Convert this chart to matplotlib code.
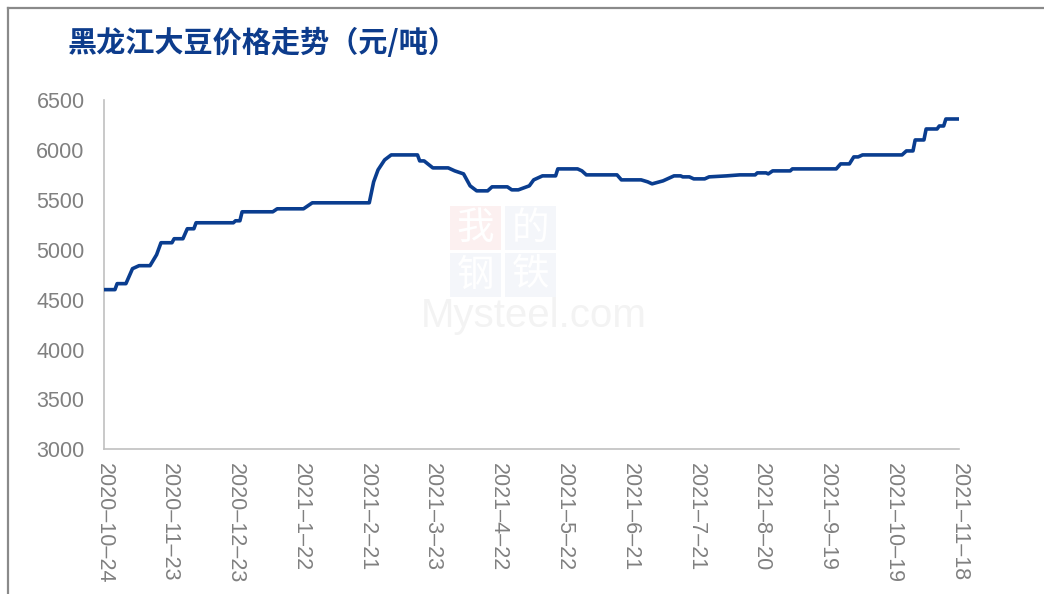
import matplotlib
matplotlib.use("Agg")
import matplotlib.pyplot as plt
from matplotlib.lines import Line2D
from matplotlib.patches import Rectangle
import pandas as pd

plt.rcParams["font.family"] = ["Liberation Sans", "Noto Sans CJK SC", "DejaVu Sans"]

# price turning points (yuan/ton)
dates = [
    "2020-10-24", "2020-10-29", "2020-10-30", "2020-11-03", "2020-11-06", "2020-11-09",
    "2020-11-14", "2020-11-17", "2020-11-19", "2020-11-24", "2020-11-25", "2020-11-29",
    "2020-12-01", "2020-12-04", "2020-12-05", "2020-12-22", "2020-12-23", "2020-12-25",
    "2020-12-26", "2021-01-09", "2021-01-11", "2021-01-23", "2021-01-27", "2021-02-22",
    "2021-02-24", "2021-02-26", "2021-03-01", "2021-03-04", "2021-03-16", "2021-03-17",
    "2021-03-19", "2021-03-23", "2021-03-30", "2021-04-02", "2021-04-06", "2021-04-09",
    "2021-04-12", "2021-04-17", "2021-04-19", "2021-04-26", "2021-04-28", "2021-05-01",
    "2021-05-06", "2021-05-08", "2021-05-10", "2021-05-12", "2021-05-18", "2021-05-19",
    "2021-05-28", "2021-05-30", "2021-06-01", "2021-06-15", "2021-06-17", "2021-06-26",
    "2021-06-29", "2021-07-01", "2021-07-06", "2021-07-09", "2021-07-11", "2021-07-14",
    "2021-07-15", "2021-07-18", "2021-07-20", "2021-07-25", "2021-07-27", "2021-08-04",
    "2021-08-10", "2021-08-17", "2021-08-18", "2021-08-22", "2021-08-23", "2021-08-25",
    "2021-09-02", "2021-09-03", "2021-09-23", "2021-09-25", "2021-09-29", "2021-10-01",
    "2021-10-03", "2021-10-05", "2021-10-23", "2021-10-25", "2021-10-28", "2021-10-29",
    "2021-11-02", "2021-11-03", "2021-11-08", "2021-11-09", "2021-11-11", "2021-11-12",
    "2021-11-18",
]
prices = [
    4600, 4600, 4660, 4660, 4810, 4840,
    4840, 4950, 5070, 5070, 5110, 5110,
    5210, 5210, 5270, 5270, 5290, 5290,
    5380, 5380, 5410, 5410, 5470, 5470,
    5680, 5800, 5900, 5950, 5950, 5890,
    5890, 5820, 5820, 5790, 5760, 5640,
    5590, 5590, 5630, 5630, 5600, 5600,
    5640, 5700, 5720, 5740, 5740, 5810,
    5810, 5790, 5750, 5750, 5700, 5700,
    5680, 5660, 5690, 5720, 5740, 5740,
    5730, 5730, 5710, 5710, 5730, 5740,
    5750, 5750, 5770, 5770, 5760, 5790,
    5790, 5810, 5810, 5860, 5860, 5930,
    5930, 5950, 5950, 5990, 5990, 6100,
    6100, 6210, 6210, 6240, 6240, 6310,
    6310,
]

tick_dates = [
    "2020-10-24", "2020-11-23", "2020-12-23", "2021-01-22", "2021-02-21",
    "2021-03-23", "2021-04-22", "2021-05-22", "2021-06-21", "2021-07-21",
    "2021-08-20", "2021-09-19", "2021-10-19", "2021-11-18",
]
y_ticks = [3000, 3500, 4000, 4500, 5000, 5500, 6000, 6500]

line_color = "#0a3d8f"
grey = "#808080"

x = pd.to_datetime(dates)
ticks = pd.to_datetime(tick_dates)

fig = plt.figure(figsize=(10.44, 5.94), dpi=100)
ax = fig.add_axes([0.0996, 0.2436, 0.8190, 0.5880])

# faint watermark
wm = [(0.4310, 0.5791, "#fcf0f0", "我"), (0.4837, 0.5791, "#f4f6fa", "的"),
      (0.4310, 0.5000, "#f4f6fa", "钢"), (0.4837, 0.5000, "#f4f6fa", "铁")]
for bx, by, bc, ch in wm:
    fig.patches.append(Rectangle((bx, by), 0.0490, 0.0740, transform=fig.transFigure,
                                 facecolor=bc, edgecolor="none", zorder=0))
    fig.text(bx + 0.0245, by + 0.037, ch, color="white", fontsize=27,
             family=["Noto Sans CJK SC"], ha="center", va="center", zorder=0.5)
fig.text(0.4030, 0.4500, "Mysteel.com", color="#f3f3f3", fontsize=29,
         ha="left", va="baseline", zorder=0.5)
ax.patch.set_alpha(0)

ax.plot(x, prices, color=line_color, linewidth=2.6, solid_capstyle="round",
        solid_joinstyle="round", zorder=3)

ax.set_xlim(ticks[0], ticks[-1])
ax.set_ylim(3000, 6500)
ax.set_yticks(y_ticks)
ax.set_xticks(ticks)
ax.set_xticklabels([f"{d.year}\u2013{d.month}\u2013{d.day}" for d in ticks],
                   rotation=270, ha="center", va="top")

for s in ["top", "right"]:
    ax.spines[s].set_visible(False)
for s in ["left", "bottom"]:
    ax.spines[s].set_color("#c0c0c0")
    ax.spines[s].set_linewidth(1.2)
ax.tick_params(axis="both", length=0, colors=grey, labelsize=15.5)
ax.tick_params(axis="x", pad=10)
ax.tick_params(axis="y", pad=14)

fig.text(0.065, 0.927, "黑龙江大豆价格走势（元/吨）", color="#0d3c8c", fontsize=21,
         fontweight="bold", family=["Noto Sans CJK SC"], ha="left", va="center")

# frame lines on the left and top edges
fig.add_artist(Line2D([0.0080, 0.0080], [0, 0.9865], transform=fig.transFigure,
                      color="#8a8a8a", linewidth=1.6))
fig.add_artist(Line2D([0.0080, 1.0], [0.9865, 0.9865], transform=fig.transFigure,
                      color="#8a8a8a", linewidth=1.6))

fig.savefig("out.png", dpi=100)
